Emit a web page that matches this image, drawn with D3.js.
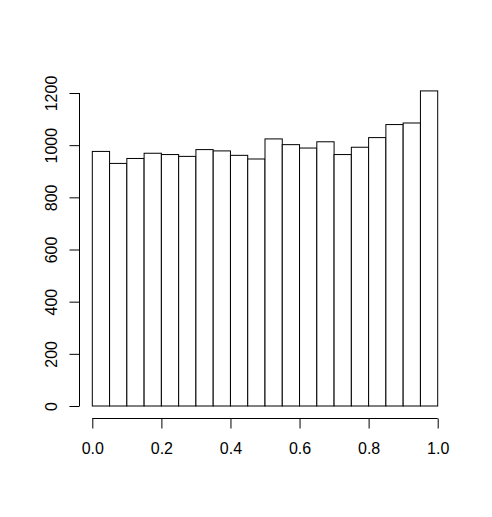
<!DOCTYPE html>
<html><head><meta charset="utf-8">
<script src="https://cdn.jsdelivr.net/npm/d3@7"></script>
<style>body{margin:0;background:#fff}svg{display:block}text{font-family:"Liberation Sans",Arial,sans-serif}</style>
</head><body>
<script>
const binEdges = [0,0.05,0.1,0.15,0.2,0.25,0.3,0.35,0.4,0.45,0.5,0.55,0.6,0.65,0.7,0.75,0.8,0.85,0.9,0.95,1.0];
const counts = [976,930,949,969,964,957,983,978,961,947,1024,1002,989,1013,964,992,1029,1079,1085,1208];
const xTicks = [0,0.2,0.4,0.6,0.8,1.0];
const yTicks = [0,200,400,600,800,1000,1200];

const W=492,H=517;
const svg=d3.select("body").append("svg").attr("width",W).attr("height",H);
const x=d3.scaleLinear().domain([0,1]).range([92.3,437.7]);
const y=d3.scaleLinear().domain([0,1200]).range([406,93]);

svg.append("g").selectAll("rect").data(counts).join("rect")
  .attr("x",(d,i)=>x(binEdges[i])).attr("width",(d,i)=>x(binEdges[i+1])-x(binEdges[i]))
  .attr("y",d=>y(d)).attr("height",d=>y(0)-y(d))
  .attr("fill","#fff").attr("stroke","#000").attr("stroke-width",1);

const gx=svg.append("g").attr("transform","translate(0,418.5)")
  .call(d3.axisBottom(x).tickValues(xTicks).tickFormat(d3.format(".1f")).tickSize(10).tickPadding(14).tickSizeOuter(0));
gx.select(".domain").remove();
gx.append("line").attr("x1",x(0)).attr("x2",x(1)).attr("stroke","#000");
gx.selectAll("text").attr("font-size",16).attr("fill","#000").attr("font-family","Liberation Sans, Arial, sans-serif");

const gy=svg.append("g").attr("transform","translate(79.5,0)")
  .call(d3.axisLeft(y).tickValues(yTicks).tickFormat(d3.format("d")).tickSize(10).tickSizeOuter(0));
gy.select(".domain").remove();
gy.append("line").attr("y1",y(0)).attr("y2",y(1200)).attr("stroke","#000");
gy.selectAll("text").attr("x",0).attr("dy",0).attr("text-anchor","middle")
  .attr("transform","translate(-23,0) rotate(-90)")
  .attr("font-size",16).attr("fill","#000").attr("font-family","Liberation Sans, Arial, sans-serif");
</script>
</body></html>
